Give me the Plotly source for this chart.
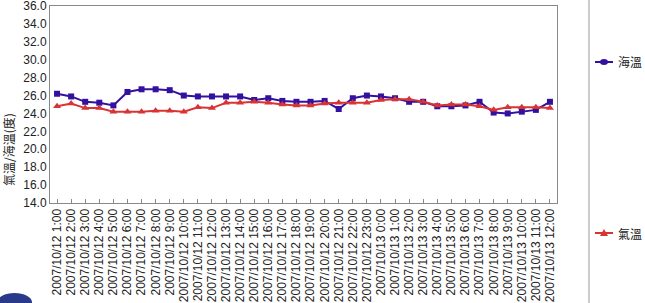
import plotly.graph_objects as go

times = [f"2007/10/12 {h}:00" for h in range(1, 24)] + [f"2007/10/13 {h}:00" for h in range(0, 13)]

sea_temp = [26.2, 25.9, 25.3, 25.2, 24.9, 26.4, 26.7, 26.7, 26.6, 26.0,
            25.9, 25.9, 25.9, 25.9, 25.5, 25.7, 25.4, 25.3, 25.3, 25.4,
            24.5, 25.7, 26.0, 25.9, 25.7, 25.3, 25.3, 24.8, 24.8, 24.9,
            25.3, 24.1, 24.0, 24.2, 24.4, 25.3]
air_temp = [24.8, 25.1, 24.6, 24.6, 24.2, 24.2, 24.2, 24.3, 24.3, 24.2,
            24.7, 24.6, 25.2, 25.2, 25.3, 25.2, 25.0, 24.9, 24.9, 25.1,
            25.2, 25.2, 25.2, 25.5, 25.6, 25.6, 25.3, 24.9, 25.0, 25.0,
            24.8, 24.4, 24.7, 24.7, 24.7, 24.6]
series_names = ["海溫", "氣溫"]

y_ticks = [14 + 2 * i for i in range(12)]

BLUE = "#3311a0"
RED = "#d93333"
FONT = "Liberation Sans, Arial, Noto Sans CJK TC, sans-serif"
CJK = "Noto Sans CJK TC, sans-serif"

W, H = 645, 303
L, R, T, B = 50, 88, 6, 100
pw, ph = W - L - R, H - T - B


def px(x):
    return (x - L) / pw


def py(y):
    return 1 - (y - T) / ph


fig = go.Figure()
fig.add_trace(go.Scatter(x=times, y=sea_temp, name=series_names[0], mode="lines+markers",
                         line=dict(color=BLUE, width=2),
                         marker=dict(symbol="square", size=6, color=BLUE)))
fig.add_trace(go.Scatter(x=times, y=air_temp, name=series_names[1], mode="lines+markers",
                         line=dict(color=RED, width=2),
                         marker=dict(symbol="triangle-up", size=7, color=RED)))

shapes = [
    dict(type="line", xref="paper", yref="paper", x0=px(589), x1=px(589),
         y0=py(H + 5), y1=py(-5), line=dict(color="#999", width=1)),
    dict(type="circle", xref="paper", yref="paper", x0=px(-3), x1=px(32),
         y0=py(312), y1=py(293), fillcolor="#2a3a8a", line=dict(width=0)),
    # legend: 海溫
    dict(type="line", xref="paper", yref="paper", x0=px(595), x1=px(613),
         y0=py(62), y1=py(62), line=dict(color=BLUE, width=2)),
    dict(type="circle", xref="paper", yref="paper", x0=px(600), x1=px(608),
         y0=py(65), y1=py(59), fillcolor=BLUE, line=dict(width=0)),
    # legend: 氣溫
    dict(type="line", xref="paper", yref="paper", x0=px(595), x1=px(613),
         y0=py(233), y1=py(233), line=dict(color=RED, width=2)),
    dict(type="path", xref="paper", yref="paper",
         path=f"M {px(600)},{py(236)} L {px(608)},{py(236)} L {px(604)},{py(229)} Z",
         fillcolor=RED, line=dict(width=0)),
]

annotations = [
    dict(text="氣溫/海溫(度)", textangle=-90, xref="paper", yref="paper",
         x=px(8), y=py(150), xanchor="center", yanchor="middle", showarrow=False,
         font=dict(family=CJK, size=12, color="#222")),
    dict(text=series_names[0], xref="paper", yref="paper", x=px(616), y=py(62),
         xanchor="left", yanchor="middle", showarrow=False,
         font=dict(family=CJK, size=12, color="#222")),
    dict(text=series_names[1], xref="paper", yref="paper", x=px(616), y=py(233),
         xanchor="left", yanchor="middle", showarrow=False,
         font=dict(family=CJK, size=12, color="#222")),
]

fig.update_layout(
    width=W, height=H,
    margin=dict(l=L, r=R, t=T, b=B, autoexpand=False),
    paper_bgcolor="white", plot_bgcolor="white",
    font=dict(family=FONT, size=12, color="#222"),
    showlegend=False,
    xaxis=dict(type="category", range=[-0.5, len(times) - 0.5],
               tickmode="array", tickvals=times, ticktext=times,
               tickangle=-90, ticks="inside", ticklen=4, tickcolor="#888",
               showline=True, linecolor="#888", linewidth=1, mirror=True,
               showgrid=False, tickfont=dict(size=12, color="#222"), automargin=False,
               ticklabeloverflow="allow"),
    yaxis=dict(range=[14, 36], tickvals=y_ticks,
               ticktext=[f"{v:.1f}" for v in y_ticks],
               showline=True, linecolor="#888", linewidth=1, mirror=True,
               showgrid=False, zeroline=False, ticks="",
               tickfont=dict(size=12, color="#222"), automargin=False,
               ticklabeloverflow="allow"),
    shapes=shapes,
    annotations=annotations,
)

fig.write_html("out.html")
